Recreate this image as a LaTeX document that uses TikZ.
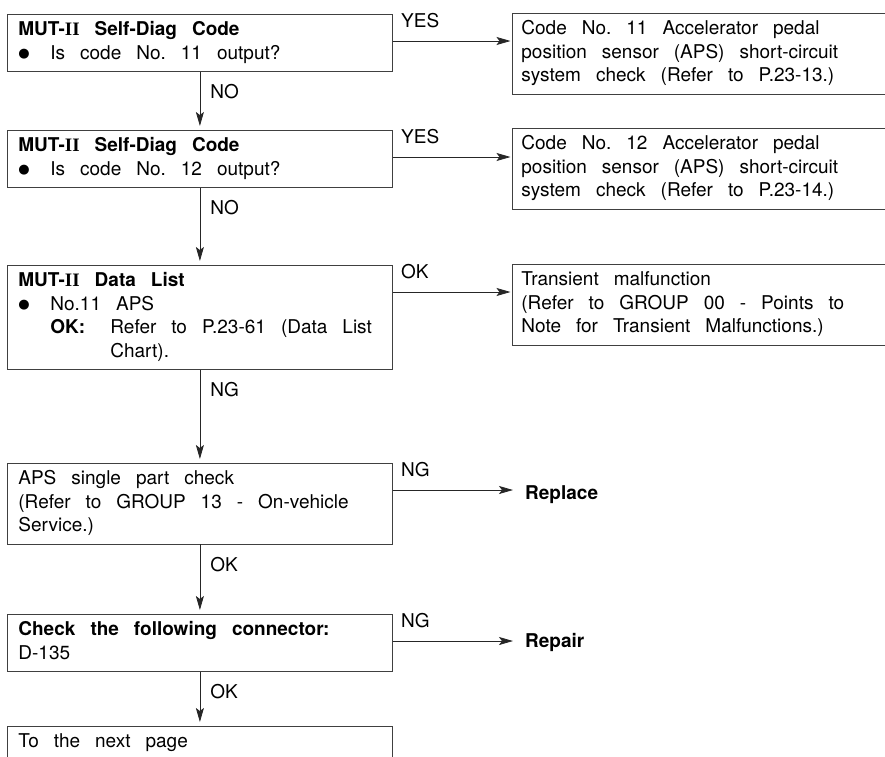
\documentclass[tikz,border=0pt]{standalone}
\usepackage{fontspec}
\setmainfont{TeX Gyre Heros}
\newfontfamily\romfont{Liberation Serif}
\newfontfamily\symfont{DejaVu Sans}
\usetikzlibrary{arrows.meta}
\newcommand{\bulletmark}{\makebox[32pt][l]{\raisebox{1.5pt}{\symfont\fontsize{13}{13}\selectfont ●}}}

\begin{document}
\begin{tikzpicture}[x=1pt,y=-1pt,
    box/.style={draw=black!75, line width=0.8pt, anchor=north west, align=left,
      inner xsep=11pt, inner ysep=5pt, text width=363pt,
      font={\fontsize{19}{23.5}\selectfont},
      execute at begin node={\spaceskip=15pt\xspaceskip=15pt\strut},
      execute at end node=\strut},
    rbox/.style={box, inner xsep=9pt, text width=382pt},
    lbl/.style={inner sep=0pt, font={\fontsize{19}{23.5}\selectfont}},
    arr/.style={draw=black!85, line width=0.8pt, -{Stealth[length=14pt,width=8pt,inset=3pt]}}]
  \def\dy{27pt};
  \useasboundingbox (0,0) rectangle (885,756);
  \clip (0,0) rectangle (885,756);
  % left column
  \node[box] (q1) at (7,14) {\textbf{MUT-{\romfont II} Self-Diag Code}\\\bulletmark Is code No. 11 output?};
  \node[box] (q2) at (7,130) {\textbf{MUT-{\romfont II} Self-Diag Code}\\\bulletmark Is code No. 12 output?};
  \node[box] (q3) at (7,265) {\textbf{MUT-{\romfont II} Data List}\\\bulletmark No.11 APS\\\hspace*{32pt}\makebox[60pt][l]{\textbf{OK:}}Refer to P.23-61 (Data List\\\hspace*{92pt}Chart).};
  \node[box] (q4) at (7,463) {APS single part check\\(Refer to GROUP 13 - On-vehicle\\Service.)};
  \node[box] (q5) at (7,614) {\textbf{Check the following connector:}\\D-135};
  \node[box] (q6) at (7,726) {To the next page};
  % right column
  \node[rbox] (r1) at (512,13) {Code No. 11 Accelerator pedal\\position sensor (APS) short-circuit\\system check (Refer to P.23-13.)};
  \node[rbox] (r2) at (512,128) {Code No. 12 Accelerator pedal\\position sensor (APS) short-circuit\\system check (Refer to P.23-14.)};
  \node[rbox] (r3) at (512,264) {Transient malfunction\\(Refer to GROUP 00 - Points to\\Note for Transient Malfunctions.)};
  \node[lbl, anchor=base west, font={\fontsize{19}{23.5}\selectfont\bfseries}] (rp) at (525,499) {Replace};
  \node[lbl, anchor=base west, font={\fontsize{19}{23.5}\selectfont\bfseries}] (rr) at (525,647) {Repair};
  % branch points
  \coordinate (o1) at ([yshift=-\dy]q1.north east);
  \coordinate (o2) at ([yshift=-\dy]q2.north east);
  \coordinate (o3) at ([yshift=-\dy]q3.north east);
  \coordinate (o4) at ([yshift=-\dy]q4.north east);
  \coordinate (o5) at ([yshift=-\dy]q5.north east);
  \draw[arr, shorten >=1.5pt] (o1) node[lbl, anchor=base west, xshift=8pt, yshift=14pt] (y1) {YES} -- (o1 -| r1.west);
  \draw[arr, shorten >=1.5pt] (o2) node[lbl, anchor=base west, xshift=8pt, yshift=14pt] (y2) {YES} -- (o2 -| r2.west);
  \draw[arr, shorten >=1.5pt] (o3) node[lbl, anchor=base west, xshift=8pt, yshift=14pt] (k3) {OK} -- (o3 -| r3.west);
  \draw[arr, shorten >=12pt] (o4) node[lbl, anchor=base west, xshift=8pt, yshift=14pt] (g4) {NG} -- (o4 -| rp.west);
  \draw[arr, shorten >=12pt] (o5) node[lbl, anchor=base west, xshift=8pt, yshift=14pt] (g5) {NG} -- (o5 -| rr.west);
  % down the column
  \draw[arr, shorten >=4pt] (q1.south) node[lbl, anchor=base west, xshift=10pt, yshift=-26.7pt] (n1) {NO} -- (q2.north);
  \draw[arr, shorten >=4pt] (q2.south) node[lbl, anchor=base west, xshift=10pt, yshift=-26.7pt] (n2) {NO} -- (q3.north);
  \draw[arr, shorten >=4pt] (q3.south) node[lbl, anchor=base west, xshift=10pt, yshift=-26.7pt] (g3) {NG} -- (q4.north);
  \draw[arr, shorten >=4pt] (q4.south) node[lbl, anchor=base west, xshift=10pt, yshift=-26.7pt] (k4) {OK} -- (q5.north);
  \draw[arr, shorten >=4pt] (q5.south) node[lbl, anchor=base west, xshift=10pt, yshift=-26.7pt] (k5) {OK} -- (q6.north);
\end{tikzpicture}
\end{document}
